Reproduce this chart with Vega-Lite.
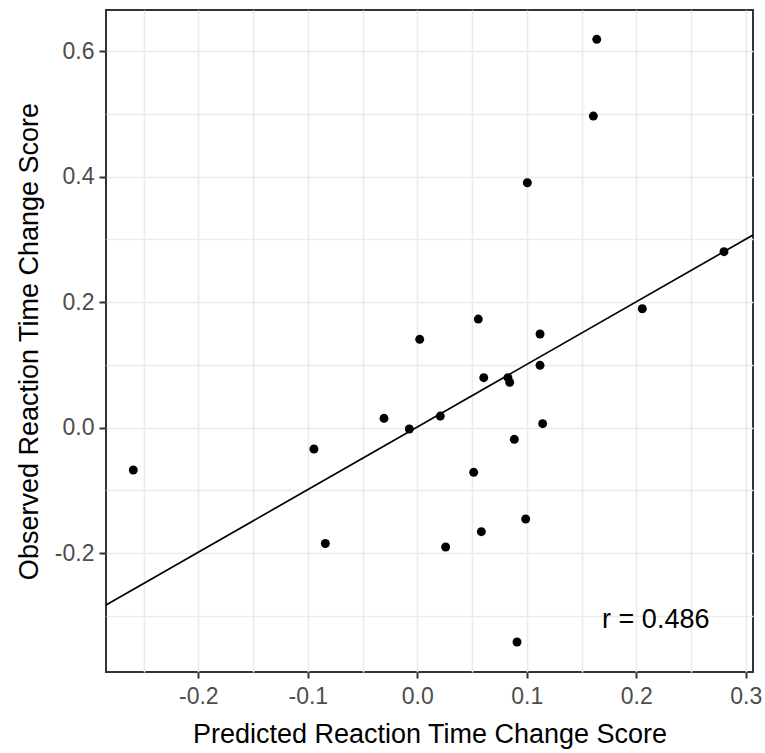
{
  "$schema": "https://vega.github.io/schema/vega-lite/v6.json",
  "width": 647,
  "height": 662,
  "autosize": {"type": "none"},
  "padding": {"left": 106, "top": 10, "right": 12, "bottom": 81},
  "background": "white",
  "config": {
    "font": "Liberation Sans",
    "view": {"stroke": "#333333", "strokeWidth": 2}
  },
  "layer": [
    {
      "data": {
        "values": [
          {"predicted": -0.2594, "observed": -0.0674},
          {"predicted": -0.0944, "observed": -0.0339},
          {"predicted": -0.0840, "observed": -0.1845},
          {"predicted": -0.0304, "observed": 0.0150},
          {"predicted": -0.0073, "observed": -0.0021},
          {"predicted": 0.0022, "observed": 0.1409},
          {"predicted": 0.0210, "observed": 0.0186},
          {"predicted": 0.0259, "observed": -0.1901},
          {"predicted": 0.0515, "observed": -0.0711},
          {"predicted": 0.0557, "observed": 0.1732},
          {"predicted": 0.0585, "observed": -0.1657},
          {"predicted": 0.0607, "observed": 0.0797},
          {"predicted": 0.0828, "observed": 0.0797},
          {"predicted": 0.0844, "observed": 0.0724},
          {"predicted": 0.0886, "observed": -0.0185},
          {"predicted": 0.0911, "observed": -0.3415},
          {"predicted": 0.0990, "observed": -0.1455},
          {"predicted": 0.1005, "observed": 0.3904},
          {"predicted": 0.1121, "observed": 0.1493},
          {"predicted": 0.1121, "observed": 0.0994},
          {"predicted": 0.1145, "observed": 0.0064},
          {"predicted": 0.1608, "observed": 0.4967},
          {"predicted": 0.1639, "observed": 0.6190},
          {"predicted": 0.2055, "observed": 0.1896},
          {"predicted": 0.2801, "observed": 0.2805}
        ]
      },
      "mark": {"type": "circle", "size": 80, "color": "black", "opacity": 1},
      "encoding": {
        "x": {
          "field": "predicted",
          "type": "quantitative",
          "scale": {"domain": [-0.2843, 0.3066], "nice": false, "zero": false},
          "axis": {
            "values": [-0.25, -0.2, -0.15, -0.1, -0.05, 0, 0.05, 0.1, 0.15, 0.2, 0.25, 0.3],
            "grid": true,
            "gridColor": "#EBEBEB",
            "gridWidth": 1.6,
            "domain": false,
            "tickColor": "#333333",
            "tickWidth": 2,
            "tickSize": 6,
            "tickOpacity": {"condition": {"test": "abs(datum.value*10 - round(datum.value*10)) > 0.1", "value": 0}, "value": 1},
            "labelExpr": "abs(datum.value*10 - round(datum.value*10)) > 0.1 ? '' : (datum.value < -0.001 ? '-' : '') + format(abs(datum.value), '.1f')",
            "labelFontSize": 23,
            "labelColor": "#4D4D4D",
            "labelPadding": 7,
            "title": "Predicted Reaction Time Change Score",
            "titleFontSize": 27,
            "titleFontWeight": "normal",
            "titleColor": "#000000",
            "titlePadding": 13
          }
        },
        "y": {
          "field": "observed",
          "type": "quantitative",
          "scale": {"domain": [-0.3893, 0.6657], "nice": false, "zero": false},
          "axis": {
            "values": [-0.3, -0.2, -0.1, 0, 0.1, 0.2, 0.3, 0.4, 0.5, 0.6],
            "grid": true,
            "gridColor": "#EBEBEB",
            "gridWidth": 1.6,
            "domain": false,
            "tickColor": "#333333",
            "tickWidth": 2,
            "tickSize": 7,
            "tickOpacity": {"condition": {"test": "abs(datum.value*5 - round(datum.value*5)) > 0.1", "value": 0}, "value": 1},
            "labelExpr": "abs(datum.value*5 - round(datum.value*5)) > 0.1 ? '' : (datum.value < -0.001 ? '-' : '') + format(abs(datum.value), '.1f')",
            "labelFontSize": 23,
            "labelColor": "#4D4D4D",
            "labelPadding": 5,
            "title": "Observed Reaction Time Change Score",
            "titleFontSize": 27,
            "titleFontWeight": "normal",
            "titleColor": "#000000",
            "titlePadding": 11
          }
        }
      }
    },
    {
      "data": {
        "values": [
          {"predicted": -0.2843, "observed": -0.2825},
          {"predicted": 0.3066, "observed": 0.3071}
        ]
      },
      "mark": {"type": "line", "color": "black", "strokeWidth": 1.7, "clip": true},
      "encoding": {
        "x": {"field": "predicted", "type": "quantitative"},
        "y": {"field": "observed", "type": "quantitative"}
      }
    },
    {
      "data": {
        "values": [
          {"predicted": 0.2178, "observed": -0.3067, "label": "r = 0.486"}
        ]
      },
      "mark": {"type": "text", "fontSize": 27, "color": "#000000", "align": "center", "baseline": "middle"},
      "encoding": {
        "x": {"field": "predicted", "type": "quantitative"},
        "y": {"field": "observed", "type": "quantitative"},
        "text": {"field": "label"}
      }
    }
  ]
}
